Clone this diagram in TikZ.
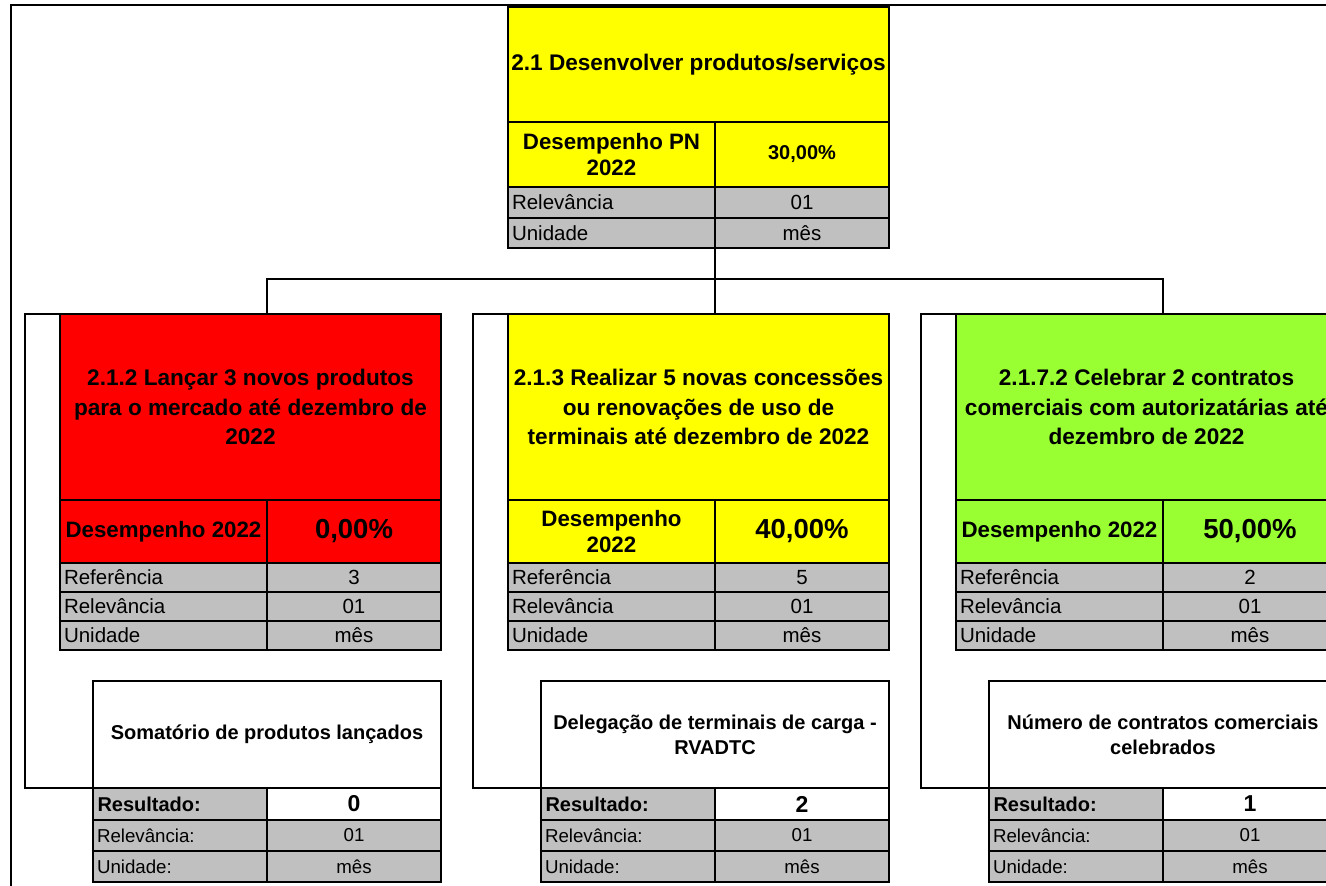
\documentclass[tikz,border=0pt]{standalone}
\usepackage{fontspec}
\setmainfont{Liberation Sans}
\usetikzlibrary{positioning}
\definecolor{cellgray}{HTML}{C0C0C0}
\definecolor{goalred}{HTML}{FF0000}
\definecolor{goalyellow}{HTML}{FFFF00}
\definecolor{goalgreen}{HTML}{99FF33}
\newcommand\cardtitlefont{\bfseries\fontsize{22.6}{29.5}\selectfont}
\newcommand\perflabelfont{\bfseries\fontsize{22.3}{26.5}\selectfont}
\newcommand\bigvaluefont{\bfseries\fontsize{27.5}{30}\selectfont}
\newcommand\smallvaluefont{\bfseries\fontsize{20}{23}\selectfont}
\newcommand\rowfont{\fontsize{20.5}{24}\selectfont}
\newcommand\indfont{\bfseries\fontsize{20}{25}\selectfont}
\newcommand\resfont{\bfseries\fontsize{23}{26}\selectfont}
\newcommand\smallrowfont{\fontsize{18.7}{22}\selectfont}
\tikzset{
  cell/.style={draw=black,line width=2.6pt,inner sep=0pt,outer sep=0pt,align=center,text=black},
  labcell/.style={cell,fill=cellgray,align=left},
  valcell/.style={cell,fill=cellgray},
  wire/.style={draw=black,line width=2.3pt},
  frame/.style={draw=black,line width=1.3pt},
}
\tikzset{pics/goalcard/.style n args={5}{
code={
    % title and performance row
    \node[cell,fill=#1,minimum width=381pt,minimum height=186pt,font=\cardtitlefont] (-title) at (190.5,93) {#2};
    \node[cell,fill=#1,minimum width=207pt,minimum height=63pt,font=\perflabelfont] (-plabel) at (103.5,217.5) {#3};
    \node[cell,fill=#1,minimum width=174pt,minimum height=63pt,font=\bigvaluefont] (-pvalue) at (294,217.5) {#4};
    % grey rows
    \foreach \lab/\val [count=\i] in {Referência/#5,Relevância/01,Unidade/mês}{
        \node[labcell,text width=199pt,minimum width=207pt,minimum height=29pt,font=\rowfont]
            (-lab\i) at (103.5,{234.5+29*\i}) {\lab};
        \node[valcell,minimum width=174pt,minimum height=29pt,font=\rowfont]
            (-val\i) at (294,{234.5+29*\i}) {\val};
    }
    \coordinate (-top) at (207,0);
    \coordinate (-wrap) at (-35,0);
}
}}
\tikzset{pics/indcard/.style n args={2}{
code={
    \node[cell,fill=white,minimum width=348pt,minimum height=107pt,font=\indfont] (-title) at (174,53.5) {#1};
    \node[labcell,text width=165pt,minimum width=174pt,minimum height=32pt,font=\indfont] (-rlabel) at (87,123) {Resultado:};
    \node[cell,fill=white,minimum width=174pt,minimum height=32pt,font=\resfont] (-rvalue) at (261,123) {#2};
    \foreach \lab/\val [count=\i] in {Relevância:/01,Unidade:/mês}{
        \node[labcell,text width=166pt,minimum width=174pt,minimum height=31pt,font=\smallrowfont]
            (-lab\i) at (87,{123.5+31*\i}) {\lab};
        \node[valcell,minimum width=174pt,minimum height=31pt,font=\smallrowfont]
            (-val\i) at (261,{123.5+31*\i}) {\val};
    }
}
}}

\begin{document}
\begin{tikzpicture}[x=1pt,y=-1pt]
    \useasboundingbox (0,0) rectangle (1326,886);
    % sheet edge
    \draw[frame] (11,886) -- (11,5) -- (1326,5);
    % top objective
    \node[cell,fill=goalyellow,minimum width=381pt,minimum height=115pt,font=\cardtitlefont] (T-title) at (698.5,64.5) {2.1 Desenvolver produtos/serviços};
    \node[cell,fill=goalyellow,minimum width=207pt,minimum height=65pt,font=\perflabelfont] (T-plabel) at (611.5,154.5) {Desempenho PN\\2022};
    \node[cell,fill=goalyellow,minimum width=174pt,minimum height=65pt,font=\smallvaluefont] (T-pvalue) at (802,154.5) {30,00\%};
    \node[labcell,text width=199pt,minimum width=207pt,minimum height=31pt,font=\rowfont] (T-lab1) at (611.5,202.5) {Relevância};
    \node[valcell,minimum width=174pt,minimum height=31pt,font=\rowfont] (T-val1) at (802,202.5) {01};
    \node[labcell,text width=199pt,minimum width=207pt,minimum height=30pt,font=\rowfont] (T-lab2) at (611.5,233) {Unidade};
    \node[valcell,minimum width=174pt,minimum height=30pt,font=\rowfont] (T-val2) at (802,233) {mês};
    % the three goals
    \pic (L) at (60,314) {goalcard={goalred}{2.1.2 Lançar 3 novos produtos\\para o mercado até dezembro de\\2022}{Desempenho 2022}{0,00\%}{3}};
    \pic (M) at (508,314) {goalcard={goalyellow}{2.1.3 Realizar 5 novas concessões\\ou renovações de uso de\\terminais até dezembro de 2022}{Desempenho\\2022}{40,00\%}{5}};
    \pic (R) at (956,314) {goalcard={goalgreen}{2.1.7.2 Celebrar 2 contratos\\comerciais com autorizatárias até\\dezembro de 2022}{Desempenho 2022}{50,00\%}{2}};
    % indicators
    \pic (indL) at (93,681) {indcard={Somatório de produtos lançados}{0}};
    \pic (indM) at (541,681) {indcard={Delegação de terminais de carga -\\RVADTC}{2}};
    \pic (indR) at (989,681) {indcard={Número de contratos comerciais\\celebrados}{1}};
    % connectors
    \coordinate (bus) at (0,279);
    \draw[wire] (T-lab2.south east) -- (T-lab2.south east |- bus);
    \draw[wire] (L-top) -- (L-top |- bus) -- (R-top |- bus) -- (R-top);
    \draw[wire] (M-top |- bus) -- (M-top);
    \foreach \c in {L,M,R}
        \draw[wire] (ind\c-title.south west) -| (\c-wrap) -- (\c-title.north west);
\end{tikzpicture}
\end{document}
